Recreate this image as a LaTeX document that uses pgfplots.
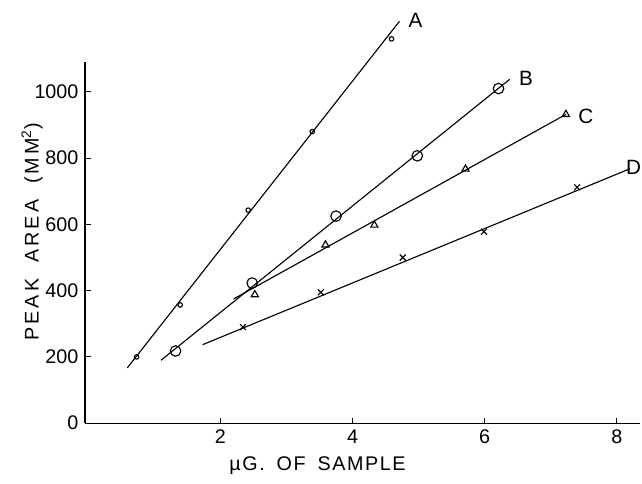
\documentclass[border=0pt]{standalone}
\usepackage{fontspec}
\setmainfont{Liberation Sans}
\usepackage{pgfplots}
\pgfplotsset{compat=1.18}

\begin{document}
\begin{tikzpicture}
\begin{axis}[
    scale only axis,
    width=10.37cm, height=6.75cm,
    xmin=-0.05, xmax=8.35, ymin=0, ymax=1090,
    axis lines*=left,
    axis line style={line width=0.7pt},
    xtick={2,4,6,8}, ytick={0,200,400,600,800,1000},
    tick style={black, line width=0.5pt},
    major tick length=3pt,
    clip=false,
    /pgf/number format/assume math mode=true,
    /pgf/number format/set thousands separator={},
    ticklabel style={font=\fontsize{10.5}{12}\selectfont},
    xlabel={\addfontfeature{LetterSpace=8}\textmu G.\hspace{0.6em}OF\hspace{0.6em}SAMPLE},
    ylabel={\addfontfeature{LetterSpace=16}PEAK\hspace{0.8em}AREA\hspace{0.8em}(MM\textsuperscript{2})},
    label style={font=\fontsize{10.5}{12}\selectfont},
    xlabel style={at={(axis description cs:0.419,0)}, anchor=center, yshift=-0.785cm},
    ylabel style={at={(axis description cs:-0.0955,0.53)}, anchor=center},
    every axis plot/.append style={black, line width=0.6pt},
]
% fitted lines
\addplot[no marks] coordinates {(0.59,167) (4.71,1213)};
\addplot[no marks] coordinates {(1.10,190) (6.38,1038)};
\addplot[no marks] coordinates {(2.20,375) (7.23,932)};
\addplot[no marks] coordinates {(1.73,237) (8.20,768)};
% measured points
\addplot[only marks, mark=o, mark size=1.2pt] coordinates {(0.73,200) (1.39,357) (2.42,643) (3.39,880) (4.59,1160)};
\addplot[only marks, mark=o, mark size=2.8pt, fill=white] coordinates {(1.32,218) (2.48,423) (3.75,625) (4.98,807) (6.21,1010)};
\addplot[only marks, mark=triangle, mark size=2.2pt] coordinates {(2.52,388) (3.59,538) (4.33,598) (5.71,767) (7.23,932)};
\addplot[only marks, mark=x, mark size=2.2pt] coordinates {(2.34,290) (3.52,395) (4.76,500) (5.99,578) (7.40,712)};
% curve labels
\node[anchor=west, font=\fontsize{11}{12}\selectfont] at (axis cs:4.75,1215) {A};
\node[anchor=west, font=\fontsize{11}{12}\selectfont] at (axis cs:6.42,1040) {B};
\node[anchor=west, font=\fontsize{11}{12}\selectfont] at (axis cs:7.32,927) {C};
\node[anchor=east, inner sep=0pt, xshift=0.03cm, font=\fontsize{11}{12}\selectfont] at (axis cs:8.35,772) {D};
\coordinate (sw) at (rel axis cs:0,0);
\coordinate (ne) at (rel axis cs:1,1);
\end{axis}
\pgfresetboundingbox
\path[use as bounding box] ([shift={(-1.59cm,-1.12cm)}]sw) rectangle ([shift={(0.04cm,1.16cm)}]ne);
\end{tikzpicture}
\end{document}
